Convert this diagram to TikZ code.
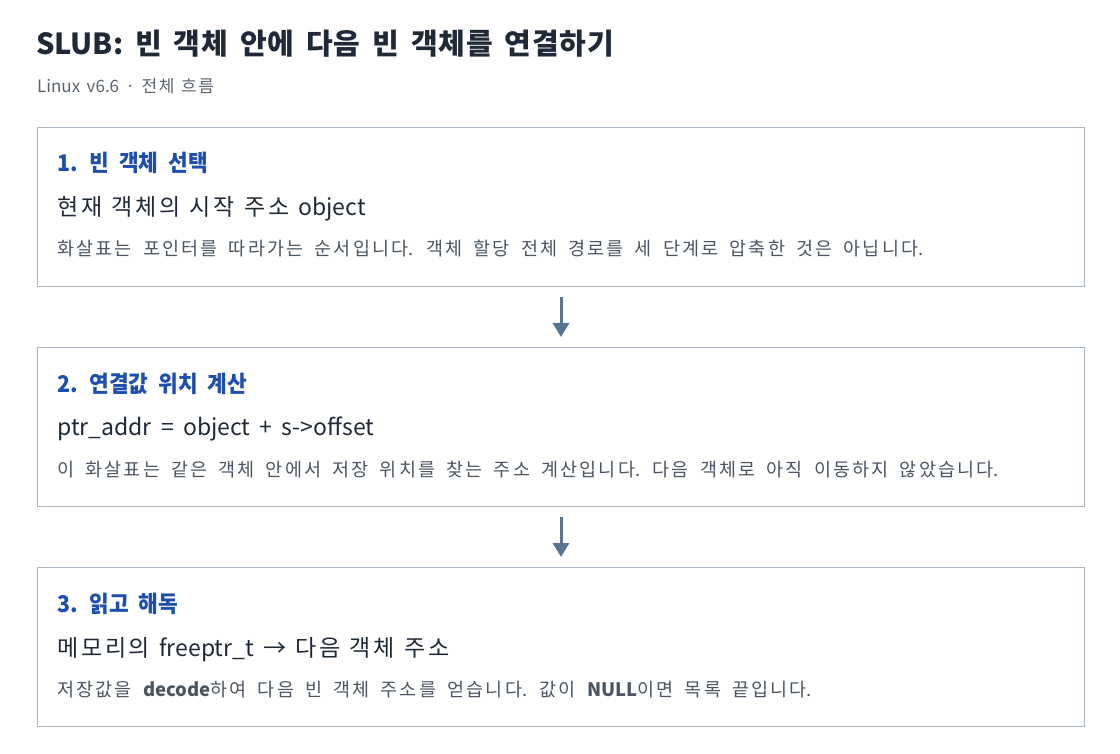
\documentclass[tikz,border=0pt]{standalone}
\usepackage{fontspec}
\setmainfont{Noto Sans CJK KR}[WordSpace=1.8]
\newfontfamily\headfam{Noto Sans CJK KR}[FakeStretch=0.93]
\usetikzlibrary{arrows.meta}
% extra tracking between Hangul syllables
\XeTeXinterchartokenstate=1
\newXeTeXintercharclass\hgcls
\count255="AC00
\loop\ifnum\count255<"D7A4 \XeTeXcharclass\count255=\hgcls \advance\count255 by 1 \repeat
\def\hgk{0}
\XeTeXinterchartoks\hgcls\hgcls={\kern\hgk em}
\newcommand\titlefnt{\fontsize{29}{34}\selectfont\bfseries\def\hgk{0.03}}
\newcommand\subfnt{\fontsize{17}{20}\selectfont\def\hgk{0.1}\spaceskip 0.38em plus 0.1em\relax}
\newcommand\headfnt{\headfam\fontsize{23}{27}\selectfont\bfseries\def\hgk{0}\spaceskip 10pt plus 2pt\relax}
\newcommand\mainfnt{\fontsize{23}{27}\selectfont\def\hgk{0.12}}
\newcommand\notefnt{\fontsize{18.5}{22}\selectfont\def\hgk{0.12}\spaceskip 0.6em plus 0.1em minus 0.05em\relax}
\definecolor{titlec}{HTML}{1F2937}
\definecolor{subc}{HTML}{5B6470}
\definecolor{headc}{HTML}{1D4FAE}
\definecolor{mainc}{HTML}{1F2937}
\definecolor{notec}{HTML}{4B5563}
\definecolor{boxc}{HTML}{AAB6C6}
\definecolor{arrc}{HTML}{5A7592}
\tikzset{
  stepbox/.style={draw=boxc, line width=1pt, fill=white, minimum width=1047pt, minimum height=159pt, inner sep=0pt, anchor=north west},
  titletxt/.style={anchor=base west, inner sep=0pt, text=titlec, font=\titlefnt},
  subtxt/.style={anchor=base west, inner sep=0pt, text=subc, font=\subfnt},
  headtxt/.style={anchor=base west, inner sep=0pt, text=headc, font=\headfnt},
  maintxt/.style={anchor=base west, inner sep=0pt, text=mainc, font=\mainfnt},
  notetxt/.style={anchor=base west, inner sep=0pt, text=notec, font=\notefnt},
  flowarrow/.style={draw=arrc, line width=3pt, -{Triangle[width=16pt,length=14pt]}}
}
\begin{document}
\begin{tikzpicture}[x=1pt,y=-1pt]
\useasboundingbox[fill=white] (0,0) rectangle (1120,754);
\node[titletxt] (title) at (36,55) {SLUB: 빈 객체 안에 다음 빈 객체를 연결하기};
\node[subtxt] (sub) at (37,93) {Linux v6.6 · 전체 흐름};

\node[stepbox] (b1) at (37,127) {};
\node[headtxt] (h1) at (57,172) {1. 빈 객체 선택};
\node[maintxt] (m1) at (57,216) {현재 객체의 시작 주소 object};
\node[notetxt] (n1) at (57,256) {화살표는 포인터를 따라가는 순서입니다. 객체 할당 전체 경로를 세 단계로 압축한 것은 아닙니다.};

\node[stepbox] (b2) at (37,347) {};
\node[headtxt] (h2) at (57,392) {2. 연결값 위치 계산};
\node[maintxt] (m2) at (57,435) {ptr\_addr = object + s->offset};
\node[notetxt] (n2) at (57,476) {이 화살표는 같은 객체 안에서 저장 위치를 찾는 주소 계산입니다. 다음 객체로 아직 이동하지 않았습니다.};

\node[stepbox] (b3) at (37,567) {};
\node[headtxt] (h3) at (57,612) {3. 읽고 해독};
\node[maintxt] (m3) at (57,656) {메모리의 freeptr\_t → 다음 객체 주소};
\node[notetxt] (n3) at (57,696) {저장값을 {\bfseries decode}하여 다음 빈 객체 주소를 얻습니다. 값이 {\bfseries NULL}이면 목록 끝입니다.};

\draw[flowarrow] ([yshift=-10pt]b1.south) -- ([yshift=10pt]b2.north);
\draw[flowarrow] ([yshift=-10pt]b2.south) -- ([yshift=10pt]b3.north);
\end{tikzpicture}
\end{document}
